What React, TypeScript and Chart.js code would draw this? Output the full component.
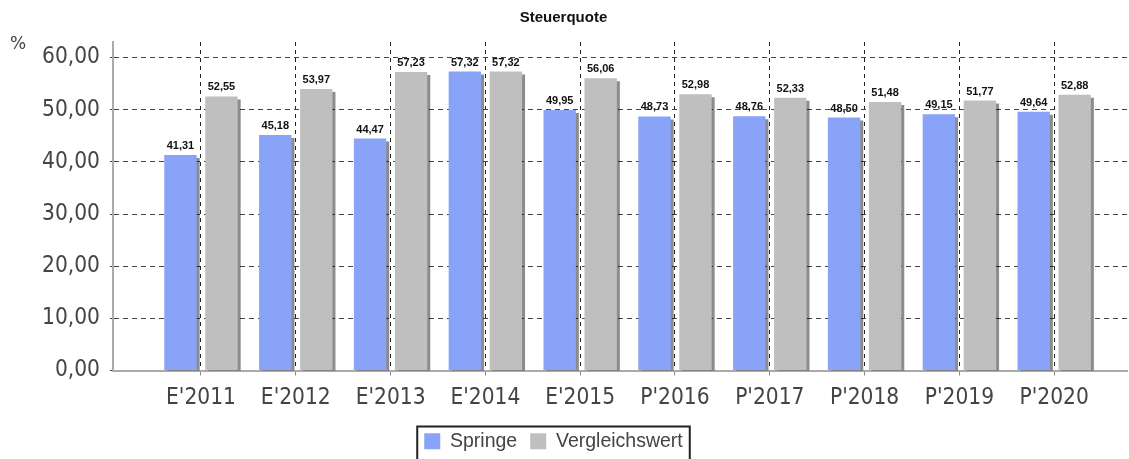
import React, { useEffect, useRef } from 'react';
import { Chart, registerables } from 'chart.js';

Chart.register(...registerables);

const chartTitle = 'Steuerquote';
const unitLabel = '%';
const categories = ["E'2011", "E'2012", "E'2013", "E'2014", "E'2015", "P'2016", "P'2017", "P'2018", "P'2019", "P'2020"];
const seriesNames = ['Springe', 'Vergleichswert'];
const springe = [41.31, 45.18, 44.47, 57.32, 49.95, 48.73, 48.76, 48.5, 49.15, 49.64];
const vergleichswert = [52.55, 53.97, 57.23, 57.32, 56.06, 52.98, 52.33, 51.48, 51.77, 52.88];
const yTicks = [0, 10, 20, 30, 40, 50, 60];

const fmt = (v: number) => v.toFixed(2).replace('.', ',');
const axisFont = '"DejaVu Sans Condensed", "DejaVu Sans", sans-serif';

const shadowPlugin = {
  id: 'barShadowAndLabels',
  beforeDatasetsDraw(chart: any) {
    const ctx = chart.ctx;
    ctx.save();
    ctx.shadowColor = 'rgba(0,0,0,0.45)';
    ctx.shadowOffsetX = 3;
    ctx.shadowOffsetY = 3;
    ctx.shadowBlur = 0;
  },
  afterDatasetsDraw(chart: any) {
    const ctx = chart.ctx;
    ctx.restore();
    ctx.save();
    ctx.font = 'bold 11px "Liberation Sans", Arial, sans-serif';
    ctx.fillStyle = '#111';
    ctx.textAlign = 'center';
    ctx.textBaseline = 'alphabetic';
    chart.data.datasets.forEach((ds: any, di: number) => {
      const meta = chart.getDatasetMeta(di);
      meta.data.forEach((el: any, i: number) => {
        ctx.fillText(fmt(ds.data[i].y), el.x, el.y - 6);
      });
    });
    ctx.restore();
  },
};

const decorPlugin = {
  id: 'decor',
  afterLayout(chart: any) {
    const lg = chart.legend;
    if (lg) {
      lg.left -= 10;
      lg.right -= 10;
      lg.top += 2;
      lg.bottom += 2;
    }
  },
  afterDraw(chart: any) {
    const ctx = chart.ctx;
    ctx.save();
    ctx.font = '17px "DejaVu Sans", sans-serif';
    ctx.fillStyle = '#444';
    ctx.textAlign = 'left';
    ctx.textBaseline = 'alphabetic';
    ctx.fillText(unitLabel, 10, 49);
    const hb = chart.legend && chart.legend.legendHitBoxes;
    if (hb && hb.length) {
      const first = hb[0];
      const last = hb[hb.length - 1];
      const left = first.left - 7;
      const right = last.left + last.width + 7;
      const top = first.top - 5;
      ctx.strokeStyle = '#222';
      ctx.lineWidth = 2;
      ctx.strokeRect(left, top, right - left, 60);
    }
    ctx.restore();
  },
};

export default function App() {
  const ref = useRef<HTMLCanvasElement | null>(null);
  useEffect(() => {
    document.body.style.margin = '0';
    if (!ref.current) return;
    const chart = new Chart(ref.current, {
      type: 'bar',
      data: {
        datasets: [
          {
            label: seriesNames[0],
            data: springe.map((v, i) => ({ x: i, y: v })),
            backgroundColor: '#88A3F8',
            borderWidth: 0,
            barPercentage: 0.79,
            categoryPercentage: 0.865,
          },
          {
            label: seriesNames[1],
            data: vergleichswert.map((v, i) => ({ x: i, y: v })),
            backgroundColor: '#BFBFBF',
            borderWidth: 0,
            barPercentage: 0.79,
            categoryPercentage: 0.865,
          },
        ],
      },
      options: {
        responsive: false,
        animation: false,
        events: [],
        layout: { padding: { left: 0, right: 2, top: 0, bottom: 0 } },
        plugins: {
          title: {
            display: true,
            text: chartTitle,
            color: '#111',
            font: { family: '"Liberation Sans", Arial, sans-serif', size: 15, weight: 'bold' },
            padding: { top: 9, bottom: 15 },
          },
          legend: {
            display: true,
            position: 'bottom',
            labels: {
              boxWidth: 16,
              boxHeight: 16,
              color: '#444',
              padding: 13,
              font: { family: '"Liberation Sans", Arial, sans-serif', size: 19.5 },
            },
          },
          tooltip: { enabled: false },
        },
        scales: {
          x: {
            type: 'linear',
            offset: false,
            min: -0.928,
            max: 9.768,
            afterBuildTicks: (s: any) => {
              s.ticks = categories.map((_, i) => ({ value: i }));
            },
            afterFit: (s: any) => {
              s.height = 46;
            },
            ticks: {
              autoSkip: false,
              maxRotation: 0,
              padding: 9,
              color: '#444',
              font: { family: axisFont, size: 22.5 },
              callback: (v: any) => categories[Math.round(Number(v))] ?? '',
            },
            grid: { offset: false, color: '#222', lineWidth: 1, tickLength: 5, tickColor: '#888' },
            border: { color: '#aaa', width: 2, dash: [4, 4] },
          },
          y: {
            type: 'linear',
            min: 0,
            max: 63,
            afterBuildTicks: (s: any) => {
              s.ticks = yTicks.map((v) => ({ value: v }));
            },
            afterFit: (s: any) => {
              s.width = 113;
            },
            ticks: {
              padding: 10,
              color: '#444',
              font: { family: axisFont, size: 22.5 },
              callback: (v: any) => fmt(Number(v)),
            },
            grid: {
              color: (c: any) => (c.tick && c.tick.value === 0 ? 'rgba(0,0,0,0)' : '#444'),
              lineWidth: 1,
              tickLength: 3,
              tickColor: '#444',
            },
            border: { color: '#aaa', width: 2, dash: [5, 4] },
          },
        },
      },
      plugins: [shadowPlugin, decorPlugin],
    } as any);
    return () => chart.destroy();
  }, []);
  return (
    <div style={{ width: 1129, height: 459, overflow: 'hidden', background: '#fff' }}>
      <canvas ref={ref} width={1129} height={459} style={{ display: 'block' }} />
    </div>
  );
}
